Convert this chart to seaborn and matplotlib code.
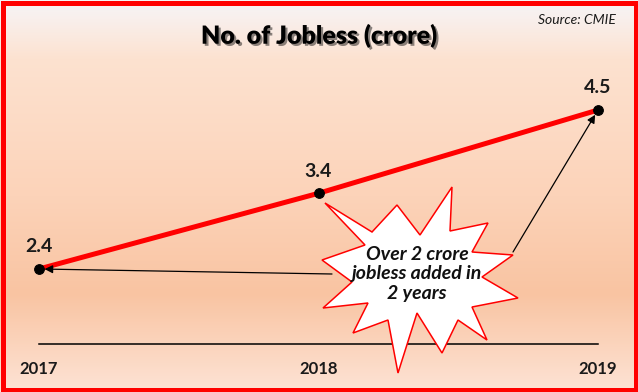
import numpy as np
import seaborn as sns
import matplotlib.pyplot as plt
import matplotlib.patheffects as pe
from matplotlib.patches import Polygon, Rectangle
from matplotlib.transforms import IdentityTransform

# --- dados ---
anos = ['2017', '2018', '2019']
desempregados = [2.4, 3.4, 4.5]
rotulos = ['2.4', '3.4', '4.5']

sns.set_style('white')
plt.rcParams['font.family'] = ['Lato', 'DejaVu Sans']

W, H = 638, 392
fig = plt.figure(figsize=(W / 100, H / 100), dpi=100)

# --- fundo em degradê (pêssego) ---
paradas = [0.0, 0.04, 0.15, 0.5, 0.75, 1.0]
cores = np.array([
    [245, 244, 246],
    [248, 240, 238],
    [253, 226, 208],
    [252, 211, 185],
    [249, 196, 162],
    [253, 227, 213],
]) / 255.0
yy = np.linspace(0, 1, H)
grad = np.stack([np.interp(yy, paradas, cores[:, c]) for c in range(3)], axis=-1)
grad = grad[:, None, :]
bg = fig.add_axes([0, 0, 1, 1], zorder=-1)
bg.imshow(grad, aspect='auto', extent=[0, 1, 0, 1])
bg.axis('off')

# --- eixo principal ---
def px(x, y):
    return x / W, 1 - y / H

left, bottom = px(39, 344)
right, top = px(598, 40)
ax = fig.add_axes([left, bottom, right - left, top - bottom])
ax.set_facecolor('none')

x_pos = np.arange(len(anos))
sns.lineplot(x=x_pos, y=desempregados, ax=ax, color='#ff0000', lw=3.6,
             marker='o', markersize=7, markerfacecolor='black',
             markeredgecolor='black', clip_on=False, zorder=3)

ax.set_xlim(0, len(anos) - 1)
ax.set_ylim(1.409, 5.425)
for s in ['top', 'left', 'right']:
    ax.spines[s].set_visible(False)
ax.spines['bottom'].set_color('black')
ax.spines['bottom'].set_linewidth(1.1)
ax.set_yticks([])
ax.set_xticks(x_pos)
ax.set_xticklabels(anos, fontsize=12, fontweight='bold', color='#1a1a1a')
ax.tick_params(axis='x', length=0, pad=12)
ax.set_xlabel('')
ax.set_ylabel('')

# rótulos dos pontos
for i, (v, t) in enumerate(zip(desempregados, rotulos)):
    ax.annotate(t, (x_pos[i], v), xytext=(0, 16), textcoords='offset points',
                ha='center', va='center', fontsize=14, fontweight='bold',
                color='#1a1a1a')

# --- estrela de destaque ---
estrela = [(325, 203), (372, 232), (397, 205), (420, 235), (452, 187), (450, 231),
           (488, 223), (472, 252), (513, 255), (482, 277), (518, 298), (472, 307),
           (487, 340), (458, 320), (442, 353), (417, 313), (398, 373), (388, 320),
           (353, 333), (368, 303), (323, 308), (352, 282), (322, 260), (365, 245)]
poly = Polygon([px(x, y) for x, y in estrela], closed=True, facecolor='white',
               edgecolor='#ff0000', lw=1.1, transform=fig.transFigure, zorder=5)
fig.patches.append(poly)
fig.text(*px(417, 274), 'Over 2 crore\njobless added in\n2 years', ha='center',
         va='center', fontsize=14, fontstyle='italic', fontweight='bold',
         linespacing=1.2, color='#111111', zorder=6)

# setas
ax.annotate('', xy=(x_pos[0], desempregados[0]), xytext=px(332, 274),
            textcoords='figure fraction',
            arrowprops=dict(arrowstyle='-|>', color='black', lw=0.9,
                            mutation_scale=12, shrinkA=0, shrinkB=4))
ax.annotate('', xy=(x_pos[2], desempregados[2]), xytext=px(513, 252),
            textcoords='figure fraction',
            arrowprops=dict(arrowstyle='-|>', color='black', lw=0.9,
                            mutation_scale=12, shrinkA=0, shrinkB=4))

# --- título e fonte ---
fig.text(*px(319, 36), 'No. of Jobless (crore)', ha='center', va='center',
         fontsize=18, fontweight='heavy', color='black',
         path_effects=[pe.SimplePatchShadow(offset=(1.5, -1.5), alpha=0.45),
                       pe.Normal()])
fig.text(*px(577, 20), 'Source: CMIE', ha='center', va='center', fontsize=10,
         fontstyle='italic', color='#1a1a1a')

# --- borda vermelha ---
borda = Rectangle((2.5, 2.5), W - 5, H - 5, fill=False, edgecolor='#ff0000',
                  lw=3.6, transform=IdentityTransform(), zorder=10)
fig.patches.append(borda)

plt.savefig('out.png', dpi=100)
